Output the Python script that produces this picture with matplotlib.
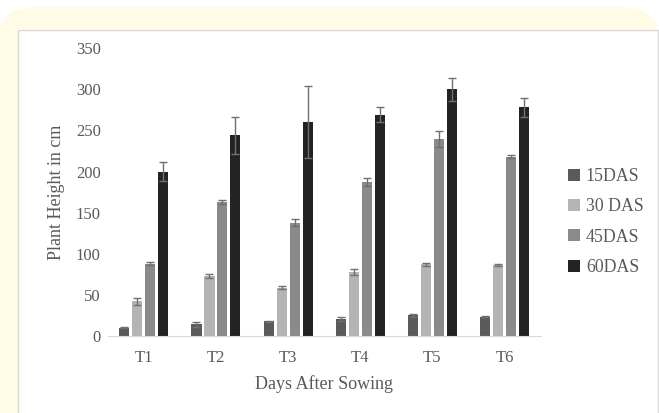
import numpy as np
import matplotlib
matplotlib.use("Agg")
import matplotlib.pyplot as plt
from matplotlib.patches import FancyBboxPatch, Rectangle

plt.rcParams['font.family'] = ['Liberation Serif', 'DejaVu Serif']

# data
treatments = ['T1', 'T2', 'T3', 'T4', 'T5', 'T6']
series = ['15DAS', '30 DAS', '45DAS', '60DAS']
das15 = [10, 14, 18, 21, 25, 23.5]
das30 = [42, 73, 59, 78, 87, 86]
das45 = [88, 163, 138, 187, 240, 218]
das60 = [200, 244, 260, 269, 300, 278]
err15 = [0.5, 2.5, 0.5, 2.5, 2, 0.5]
err30 = [4, 3, 1.5, 4, 2, 1]
err45 = [2, 3, 4, 5, 10, 2]
err60 = [12, 23, 44, 9, 14, 11]

values = [das15, das30, das45, das60]
errors = [err15, err30, err45, err60]
colors = ['#5a5a5a', '#b4b4b4', '#8a8a8a', '#232323']

fig = plt.figure(figsize=(6.59, 4.13), dpi=100)
fig.patch.set_facecolor('white')

# page decoration: yellow rounded band and white panel
W, H = 659, 413
band = FancyBboxPatch((0 / W, -0.2), 657 / W, (H - 7) / H + 0.2,
                      boxstyle="round,pad=0,rounding_size=0.06",
                      transform=fig.transFigure, facecolor='#fffbe6',
                      edgecolor='none', zorder=-10)
fig.patches.append(band)
panel = Rectangle((18 / W, -0.05), (658 - 18) / W, (H - 30) / H + 0.05,
                  transform=fig.transFigure, facecolor='white',
                  edgecolor='#d9d9d9', linewidth=1, zorder=-9)
fig.patches.append(panel)

ax = fig.add_axes([107.7 / W, (H - 336) / H, 433 / W, (336 - 48.3) / H])
ax.set_facecolor('none')

x = np.arange(len(treatments))
step = 0.18
width = 0.14
for i, (vals, errs) in enumerate(zip(values, errors)):
    ax.bar(x + (i - 1.5) * step, vals, width, color=colors[i], label=series[i],
           yerr=errs, error_kw=dict(ecolor='#707070', elinewidth=1,
                                    capsize=3, capthick=1), zorder=2)

ax.set_xlim(-0.5, 5.5)
ax.set_ylim(0, 350)
ax.set_yticks(range(0, 351, 50))
ax.set_xticks(x)
ax.set_xticklabels(treatments)
for s in ['top', 'right', 'left']:
    ax.spines[s].set_visible(False)
ax.spines['bottom'].set_color('#d9d9d9')
ax.tick_params(axis='both', length=0, labelsize=12, labelcolor='#595959')
ax.tick_params(axis='x', pad=10)
ax.tick_params(axis='y', pad=5)

ax.set_xlabel('Days After Sowing', fontsize=13, color='#595959', labelpad=7)
ax.set_ylabel('Plant Height in cm', fontsize=13, color='#595959', labelpad=8)

fig.legend(loc='center left', bbox_to_anchor=(0.862, 0.4625), frameon=False,
           borderpad=0, borderaxespad=0, handlelength=0.65, handleheight=0.65,
           handletextpad=0.35, labelspacing=0.75, fontsize=12.8,
           labelcolor='#595959')

fig.savefig('out.png', dpi=100)
